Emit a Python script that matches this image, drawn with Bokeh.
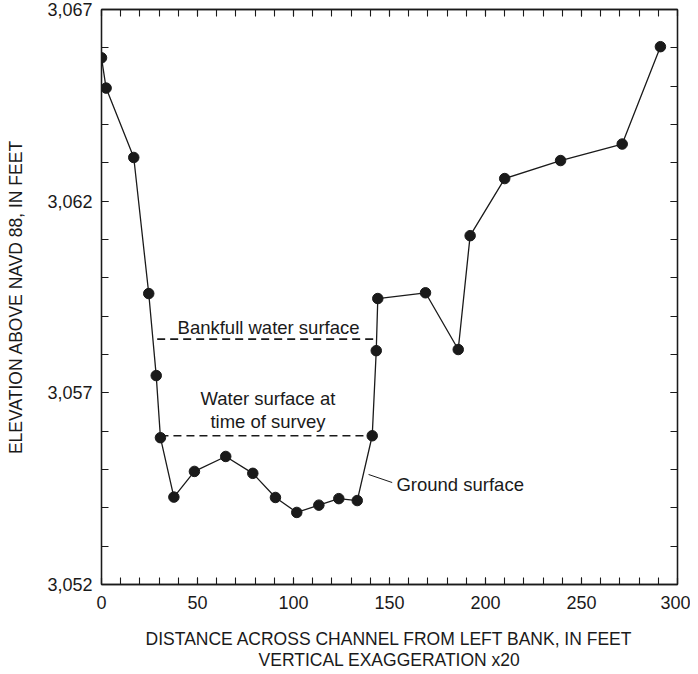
from bokeh.plotting import figure
from bokeh.models import (FixedTicker, NumeralTickFormatter, LinearAxis, Range1d, Label,
                          CustomLabelingPolicy)
from bokeh.embed import file_html
from bokeh.resources import INLINE

# Ground surface survey points
distance = [0, 2.4, 16.8, 24.6, 28.5, 30.7, 37.7, 48.4, 64.7, 78.8, 90.6, 101.7,
            113.2, 123.6, 133.2, 141.0, 143.1, 143.9, 168.75, 185.8, 192.0, 210.0,
            239.1, 271.2, 291.1]
elevation = [3065.74, 3064.95, 3063.14, 3059.59, 3057.45, 3055.83, 3054.28, 3054.95,
             3055.34, 3054.90, 3054.27, 3053.88, 3054.07, 3054.24, 3054.19, 3055.88,
             3058.10, 3059.46, 3059.61, 3058.13, 3061.10, 3062.59, 3063.06, 3063.49,
             3066.03]

# Water surfaces
bankfull_x = [29.0, 141.9]
bankfull_y = [3058.40, 3058.40]
survey_x = [30.7, 141.0]
survey_y = [3055.88, 3055.88]

x_ticks = [0, 50, 100, 150, 200, 250, 300]
x_minor = list(range(0, 301, 10))
y_ticks = [3052, 3057, 3062, 3067]
y_minor = list(range(3052, 3068))

FONT = "Liberation Sans"
FS = "18px"
FS_AX = "17.5px"
FS_ANN = "18.5px"
INK = "#1a1a1a"

p = figure(width=690, height=666, output_backend="svg", toolbar_location=None,
           x_range=Range1d(0, 300), y_range=Range1d(3052, 3067),
           x_axis_location=None, y_axis_location=None)
p.frame_width = 576
p.frame_height = 575
p.min_border_left = 101
p.min_border_top = 9
p.min_border_right = 13
p.min_border_bottom = 60
p.grid.visible = False
p.outline_line_color = INK
p.outline_line_width = 1.3
p.background_fill_color = "white"
p.border_fill_color = "white"

bottom = LinearAxis(ticker=FixedTicker(ticks=x_ticks, minor_ticks=x_minor),
                    axis_label="DISTANCE ACROSS CHANNEL FROM LEFT BANK, IN FEET\nVERTICAL EXAGGERATION x20")
left = LinearAxis(ticker=FixedTicker(ticks=y_ticks, minor_ticks=y_minor),
                  formatter=NumeralTickFormatter(format="0,0"),
                  axis_label="ELEVATION ABOVE NAVD 88, IN FEET")
top = LinearAxis(ticker=FixedTicker(ticks=x_ticks, minor_ticks=x_minor))
right = LinearAxis(ticker=FixedTicker(ticks=y_ticks, minor_ticks=y_minor))
p.add_layout(bottom, "below")
p.add_layout(left, "left")
p.add_layout(top, "above")
p.add_layout(right, "right")

for ax in [bottom, left, top, right]:
    ax.major_tick_in = 7
    ax.major_tick_out = 0
    ax.minor_tick_in = 7
    ax.minor_tick_out = 0
    ax.axis_line_color = INK
    ax.axis_line_width = 1.3
    ax.major_tick_line_color = INK
    ax.minor_tick_line_color = INK
    ax.major_tick_line_width = 1.1
    ax.minor_tick_line_width = 1.1
    ax.major_label_text_font = FONT
    ax.major_label_text_font_size = FS
    ax.major_label_text_color = INK
    ax.axis_label_text_font = FONT
    ax.axis_label_text_font_size = FS_AX
    ax.axis_label_text_font_style = "normal"
    ax.axis_label_text_color = INK

for ax in [top, right]:
    ax.major_label_policy = CustomLabelingPolicy(code="return new Set()")
    ax.major_label_text_font_size = "1px"
    ax.major_label_standoff = 0

bottom.major_label_standoff = 11
bottom.axis_label_standoff = 17
bottom.axis_label_text_line_height = 1.05
left.major_label_standoff = 9
left.axis_label_standoff = 18

# Profile
p.line(distance, elevation, line_color=INK, line_width=1.3)
p.scatter(distance, elevation, size=10.5, fill_color=INK, line_color=INK)

# Water surfaces
p.line(bankfull_x, bankfull_y, line_color=INK, line_width=1.6, line_dash="8 5")
p.line(survey_x, survey_y, line_color=INK, line_width=1.6, line_dash="8 5")

# Leader for ground surface
p.line([139.1, 151.4], [3054.87, 3054.66], line_color=INK, line_width=1.0)


def lab(x, y, text, align="center"):
    p.add_layout(Label(x=x, y=y, text=text, text_font=FONT, text_font_size=FS_ANN,
                       text_color=INK, text_align=align, text_baseline="middle"))


lab(87.0, 3058.70, "Bankfull water surface")
lab(86.7, 3056.85, "Water surface at")
lab(86.7, 3056.25, "time of survey")
lab(153.6, 3054.61, "Ground surface", align="left")

open("out.html", "w").write(file_html(p, INLINE))
